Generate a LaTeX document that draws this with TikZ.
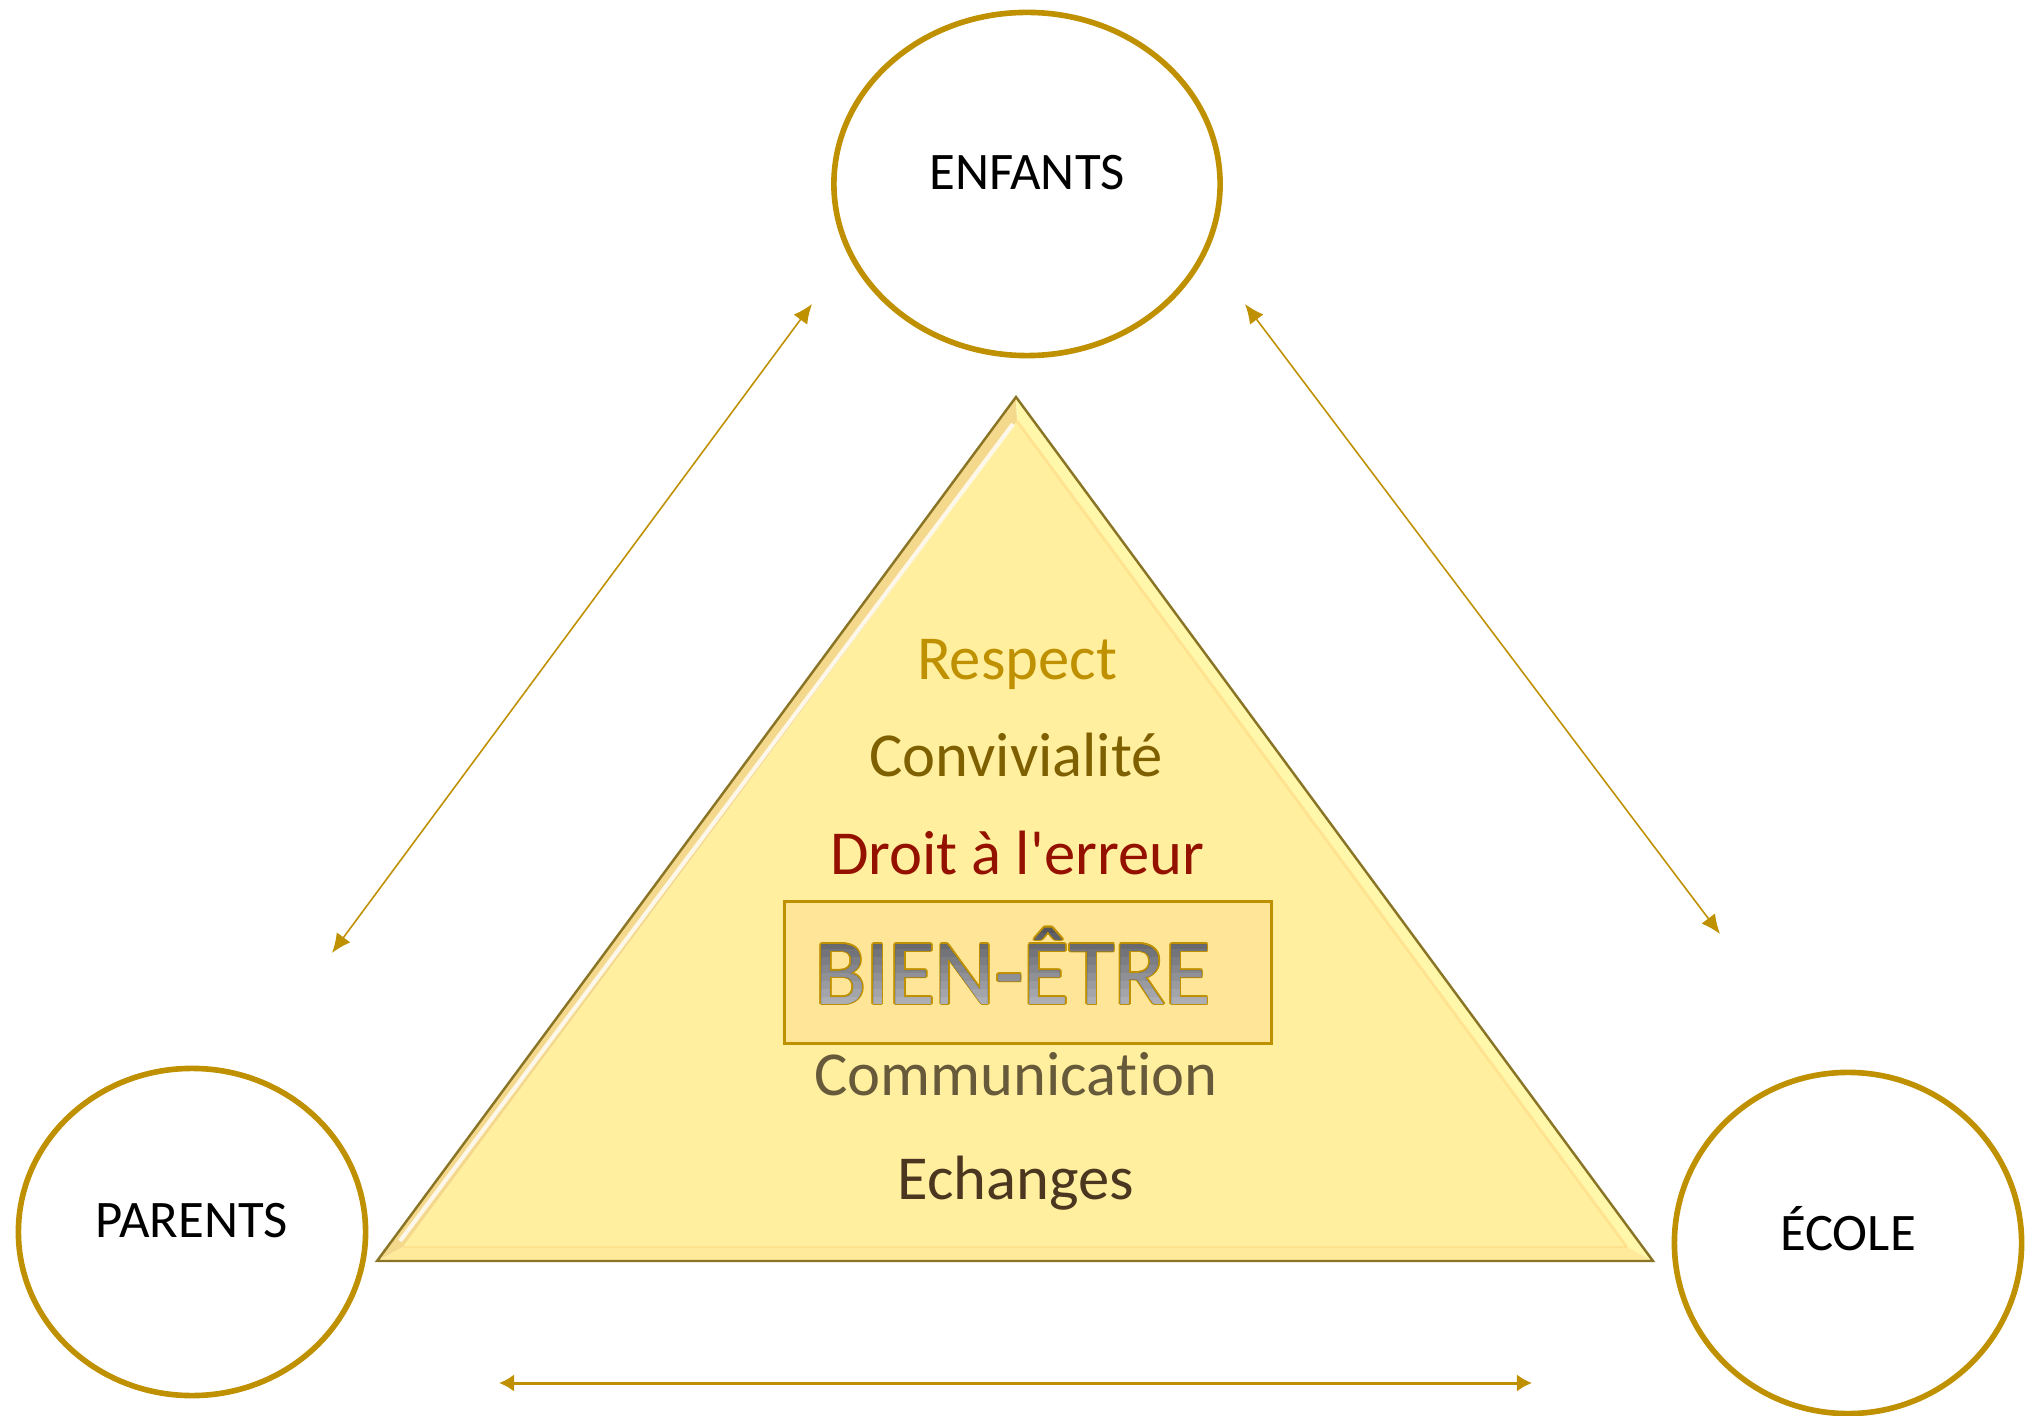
\documentclass[tikz,border=0pt]{standalone}
\usepackage{fontspec}
\setmainfont{Carlito}[Ligatures={TeXOff,NoCommon}]
\usetikzlibrary{shapes.geometric,arrows.meta,calc}
\definecolor{gold}{HTML}{BF9000}
\definecolor{trifill}{HTML}{FFEF9F}
\definecolor{trileft}{HTML}{F4D88C}
\definecolor{triright}{HTML}{FFF7AA}
\definecolor{tribot}{HTML}{FFE99B}
\definecolor{triedge}{HTML}{8A7426}
\definecolor{boxfill}{HTML}{FFE597}
\definecolor{crespect}{HTML}{BF9000}
\definecolor{cconv}{HTML}{7F6000}
\definecolor{cdroit}{HTML}{941100}
\definecolor{ccomm}{HTML}{665A3A}
\definecolor{cech}{HTML}{4B3620}
\definecolor{gtop}{HTML}{55575C}
\definecolor{gbot}{HTML}{B6B8BE}
\newcommand{\bienfont}{\fontsize{26.5pt}{30pt}\selectfont}
\tikzset{
  circ/.style={ellipse, draw=gold, line width=1.6pt, fill=white, inner sep=0pt},
  lbl/.style={font=\fontsize{15pt}{18pt}\selectfont, text=black, anchor=base, inner sep=0pt},
  word/.style={font=\fontsize{17.8pt}{21pt}\selectfont, anchor=base, inner sep=0pt},
  bien/.style={font=\bienfont, inner sep=0pt, anchor=base},
  link/.style={draw=gold, line width=0.45pt, {Latex[length=5.5pt,width=4.8pt]}-{Latex[length=5.5pt,width=4.8pt]}},
  linkb/.style={draw=gold, line width=0.85pt, {Latex[length=4.3pt,width=5pt]}-{Latex[length=4.3pt,width=5pt]}}
}
\begin{document}
\begin{tikzpicture}[x=0.01cm, y=-0.01cm]
\useasboundingbox (0,0) rectangle (2036,1416);
% triangle
\coordinate (A) at (1016,397);
\coordinate (B) at (377,1261);
\coordinate (C) at (1653,1261);
\coordinate (a) at (1017,421);
\coordinate (b) at (403,1247);
\coordinate (c) at (1627,1247);
\fill[trileft] (A) -- (B) -- (b) -- (a) -- cycle;
\fill[triright] (A) -- (C) -- (c) -- (a) -- cycle;
\fill[tribot] (B) -- (C) -- (c) -- (b) -- cycle;
\fill[trifill] (a) -- (b) -- (c) -- cycle;
\draw[white, line width=1.2pt, opacity=0.8] ($(a)+(-4,3)$) -- ($(b)+(-3,-6)$);
\draw[color=tribot!80!orange, line width=0.8pt, opacity=0.5] (a) -- (c);
\draw[color=tribot!85!orange, line width=0.8pt, opacity=0.5] (b) -- (c);
\draw[triedge, line width=0.7pt, line join=miter] (A) -- (B) -- (C) -- cycle;
% ellipses
\node[circ, minimum width=3.86cm, minimum height=3.43cm] (enf) at (1027,184) {};
\node[circ, minimum width=3.47cm, minimum height=3.27cm] (par) at (192,1232) {};
\node[circ, minimum width=3.47cm, minimum height=3.41cm] (eco) at (1848,1243) {};
\node[lbl] (tenf) at (1027,190) {ENFANTS};
\node[lbl] (tpar) at (192,1237) {PARENTS};
\node[lbl] (teco) at (1848,1250) {ÉCOLE};
% words
\node[word, text=crespect] (w1) at (1017,680) {Respect};
\node[word, text=cconv] (w2) at (1016,777) {Convivialité};
\node[word, text=cdroit] (w3) at (1017,875) {Droit à l'erreur};
\node[word, text=ccomm] (w5) at (1016,1095) {Communication};
\node[word, text=cech] (w6) at (1016,1199) {Echanges};
% box
\node[draw=gold, line width=0.85pt, fill=boxfill, minimum width=4.86cm, minimum height=1.41cm, inner sep=0pt] (box) at (1028,972.5) {};
\coordinate (P) at (1013,1004);
\foreach \k in {0,30,...,330}{
  \node[bien, text=gold] (bo\k) at ($(P)+(\k:0.5pt)$) {BIEN-ÊTRE};
}
\node[bien, text=gtop] (bf) at (P) {BIEN-ÊTRE};
\foreach \i in {1,...,10}{
  \pgfmathtruncatemacro{\pct}{100-\i*10}
  \begin{scope}
    \clip (700,{925+\i*8}) rectangle (1300,1030);
    \node[bien, text=gtop!\pct!gbot] (bf\i) at (P) {BIEN-ÊTRE};
  \end{scope}
}
% arrows
\coordinate (l1) at (812,304);
\coordinate (l2) at (332,953);
\coordinate (r1) at (1245,304);
\coordinate (r2) at (1720,934);
\coordinate (h1) at (499,1383);
\coordinate (h2) at (1532,1383);
\draw[link] (l2) -- (l1);
\draw[link] (r1) -- (r2);
\draw[linkb] (h1) -- (h2);
\end{tikzpicture}
\end{document}
